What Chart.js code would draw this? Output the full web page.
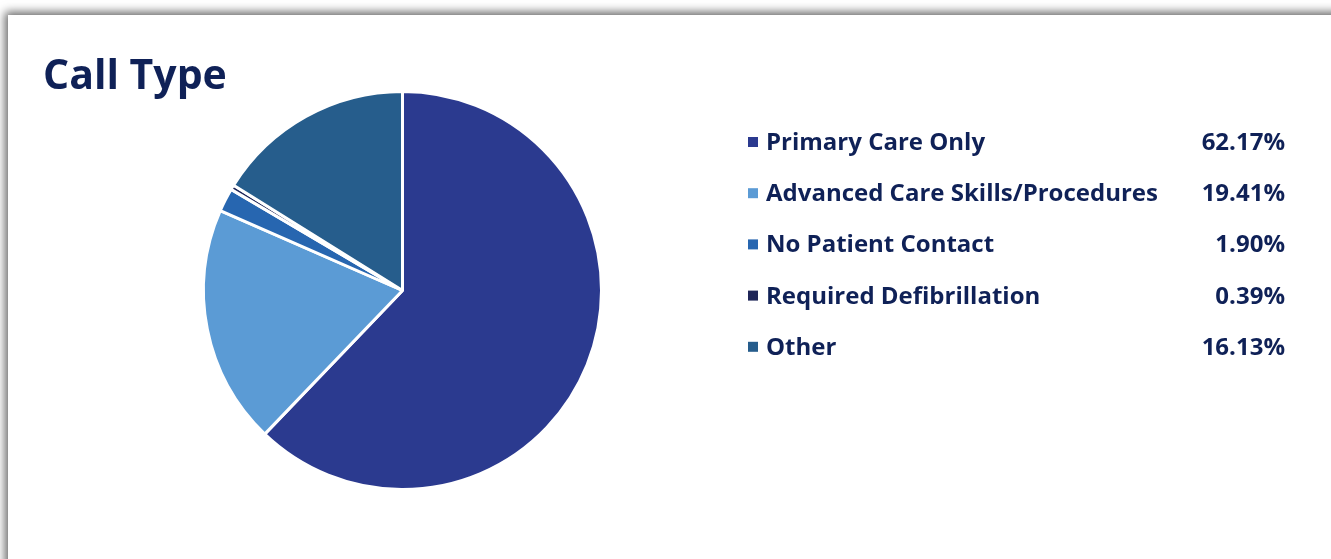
<!DOCTYPE html>
<html>
<head>
<meta charset="utf-8">
<script src="https://cdn.jsdelivr.net/npm/chart.js@4.4.1/dist/chart.umd.min.js"></script>
<style>
	html, body { margin: 0; padding: 0; background: #fff; }
	body { width: 1331px; height: 559px; position: relative; overflow: hidden; }
	#painel {
		position: absolute; left: 8px; top: 15px; width: 1340px; height: 580px;
		background: #fff;
		box-shadow: -3px -3px 9px rgba(0,0,0,0.6);
	}
	#grafico { position: absolute; left: 0; top: 0; }
</style>
</head>
<body>
<div id="painel"></div>
<canvas id="grafico" width="1331" height="559"></canvas>
<script>
var titulo = 'Call Type';
var categorias = ['Primary Care Only', 'Advanced Care Skills/Procedures', 'No Patient Contact', 'Required Defibrillation', 'Other'];
var percentuais = [62.17, 19.41, 1.90, 0.39, 16.13];
var rotulos = ['62.17%', '19.41%', '1.90%', '0.39%', '16.13%'];
var cores = ['#2B3A8F', '#5B9BD5', '#2766B0', '#1F2658', '#265D8C'];

var corTexto = '#0F2157';

// desenha titulo e legenda em duas colunas (nome / percentual)
var legendaCallType = {
	id: 'legendaCallType',
	afterDraw: function(chart) {
		var ctx = chart.ctx;
		ctx.save();
		ctx.fillStyle = corTexto;
		ctx.font = 'bold 41px "Open Sans"';
		ctx.textBaseline = 'alphabetic';
		ctx.textAlign = 'left';
		ctx.fillText(titulo, 43, 89);

		ctx.font = 'bold 24px "Open Sans"';
		chart.data.labels.forEach(function(nome, i) {
			var y = 141 + i * 51.2;
			ctx.fillStyle = chart.data.datasets[0].backgroundColor[i];
			ctx.fillRect(748, y - 4, 10, 10);
			ctx.fillStyle = corTexto;
			ctx.textAlign = 'left';
			ctx.fillText(nome, 766, y + 9);
			ctx.textAlign = 'right';
			ctx.fillText(rotulos[i], 1285, y + 9);
		});
		ctx.restore();
	}
};

new Chart(document.getElementById('grafico').getContext('2d'), {
	type: 'pie',
	data: {
		labels: categorias,
		datasets: [{
			data: percentuais,
			backgroundColor: cores,
			borderColor: '#ffffff',
			borderWidth: 3
		}]
	},
	options: {
		responsive: false,
		animation: false,
		layout: { padding: { top: 90, bottom: 68, left: 202, right: 728 } },
		plugins: {
			legend: { display: false },
			tooltip: { enabled: false }
		}
	},
	plugins: [legendaCallType]
});
</script>
</body>
</html>
